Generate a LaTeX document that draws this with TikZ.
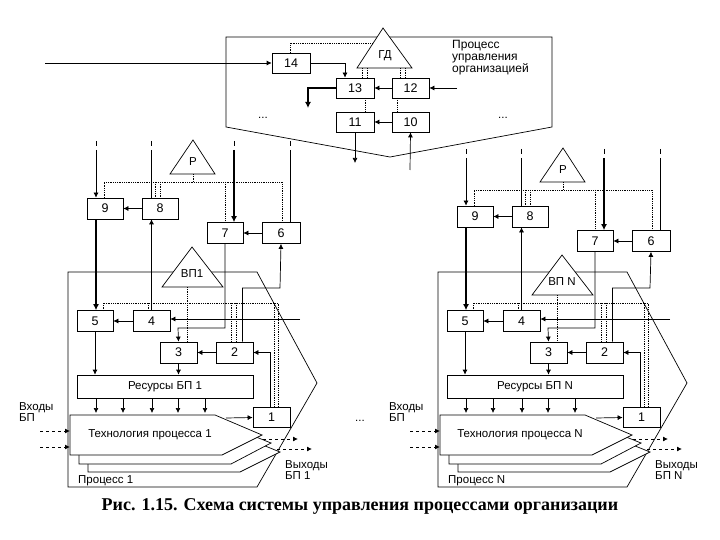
\documentclass[tikz,border=0pt]{standalone}
\usepackage{fontspec}
\setmainfont{Liberation Sans}
\newfontfamily\capfont{Liberation Serif}
\begin{document}
\begin{tikzpicture}[x=1pt,y=-1pt,
  box/.style={draw,line width=0.7pt,fill=white,minimum width=36pt,minimum height=21pt,inner sep=0pt,font=\fontsize{12.5}{12}\selectfont},
  ln/.style={line width=0.7pt},
  thk/.style={line width=1.4pt},
  arr/.style={ln,-{Latex[length=5pt,width=5pt]}},
  tarr/.style={thk,-{Latex[length=6pt,width=6pt]}},
  dot/.style={densely dotted,line width=0.8pt},
  dsh/.style={dashed,line width=0.9pt,-{Latex[length=5pt,width=5pt]}},
  lbl/.style={font=\fontsize{11.5}{12}\selectfont,align=left,inner sep=0pt},
  tri/.style={draw,line width=0.7pt,fill=white}]
\usetikzlibrary{arrows.meta}
\useasboundingbox (0,0) rectangle (720,540);
\fill[white] (0,0) rectangle (720,540);

% ---------- top management process ----------
\draw[ln] (226,37) -- (552,37) -- (552,127) -- (390,157) -- (226,127) -- cycle;
\draw[tri] (383,28) -- (412,68) -- (357,68) -- cycle;
\node[lbl] (gd) at (385,56) {ГД};
\node[box,minimum width=38pt,minimum height=20pt] (t14) at (291,63) {14};
\node[box,minimum width=38pt,minimum height=20pt] (t13) at (355,88) {13};
\node[box,minimum width=37pt,minimum height=20pt] (t12) at (410.5,88) {12};
\node[box,minimum width=38pt,minimum height=20pt] (t11) at (355,122) {11};
\node[box,minimum width=37pt,minimum height=20pt] (t10) at (410.5,122) {10};
\coordinate (tin) at (45,63);
\draw[arr] (tin) -- (t14.west);
\draw[arr] (t14.east) -| ([xshift=-10pt]t13.north);
\draw[dot] (290,53) -- (290,43) -- (372,43);
\draw[dot] (362,68) -- (362,78) (367,68) -- (367,78) (400,68) -- (400,78) (405,68) -- (405,78);
\draw[arr] (t12.west) -- (t13.east);
\coordinate (t12in) at (457,88);
\draw[arr] (t12in) -- (t12.east);
\coordinate (t13out) at (308,108);
\draw[tarr] (t13.west) -| (t13out);
\draw[dot] (365,98) -- (365,112) (397,98) -- (397,112);
\draw[arr] (t10.west) -- (t11.east);
\coordinate (t11out) at (355,163);
\draw[arr] (t11.south) -- (t11out);
\coordinate (t10in) at (410,170);
\draw[arr] (t10in) -- (t10.south);
\node[lbl] at (263,118) {...};
\node[lbl] at (503,118) {...};
\node[lbl,anchor=north west,font=\fontsize{12}{12}\selectfont] at (452,40) {Процесс\\[0pt]управления\\[0pt]организацией};

% ---------- process block macro ----------
\newcommand\procblk[5]{%
\begin{scope}[xshift=#1pt]
 \draw[ln] (68,272) -- (257,272) -- (317,383) -- (257,487) -- (68,487) -- cycle;
 \coordinate (#4xa) at (96,0);
 \begin{scope}[yshift=-#2pt]
  \node[box] (#49) at (105,208.5) {9};
  \node[box] (#48) at (160,208.5) {8};
  \node[box] (#47) at (225,233) {7};
  \node[box,minimum width=38pt] (#46) at (281,233) {6};
  \draw[tri] (193,140) -- (215,174) -- (170,174) -- cycle;
  \node[lbl] at (193,162) {P};
  \draw[dot] (193,174) -- (193,182);
  \draw[dot] (104,198) -- (104,182) -- (282,182) -- (282,222.5);
  \draw[dot] (155,182) -- (155,198) (160,182) -- (160,198) (225,182) -- (225,222.5);
  \foreach \xx in {96,151,234,290} \draw[ln] (\xx,141) -- (\xx,146);
  \coordinate (#4i9) at (96,150);
  \coordinate (#4i8) at (151,150);
  \coordinate (#4i7) at (234,150);
  \coordinate (#4i6) at (290,150);
  \draw[arr] (#4i9) -- (#4i9 |- #49.north);
  \draw[ln] (#4i8) -- (#4i8 |- #48.north);
  \draw[tarr] (#4i7) -- (#4i7 |- #47.north);
  \draw[ln] (#4i6) -- (#4i6 |- #46.north);
  \draw[arr] (#48.west) -- (#49.east);
  \draw[arr] (#46.west) -- (#47.east);
  \draw[tri] (192,247) -- (223,287) -- (162,287) -- cycle;
  \node[lbl] at (192,274) {#5};
  \coordinate (#4vb) at (187,287);
 \end{scope}
 \node[box] (#45) at (95,321) {5};
 \node[box,minimum width=37pt] (#44) at (151.5,321) {4};
 \node[box,minimum width=37pt] (#43) at (178.5,352.5) {3};
 \node[box,minimum width=37pt] (#42) at (234.5,352.5) {2};
 \node[box,minimum width=176pt,minimum height=23pt,font=\fontsize{11.5}{12}\selectfont] (#4r) at (165,386.5) {Ресурсы БП #3};
 \node[box,minimum width=37pt,minimum height=20pt] (#41) at (271.5,417.5) {1};
 \draw[dot] (103,311) -- (103,303) -- (278,303) -- (278,407);
 \draw[dot] (274,303) -- (274,407);
 \draw[dot] (148,303) -- (148,311) (231,303) -- (231,342) (236,303) -- (236,342);
 \draw[dot] (#4vb) -- (#4vb |- #43.north);
 \draw[tarr] (#49.south -| #4xa) -- (#45.north -| #4xa);
 \draw[arr] (#44.north) -- (#44.north |- #48.south);
 \draw[arr] (#44.west) -- (#45.east);
 \coordinate (#4i4) at (300,319);
 \draw[arr] (#4i4) -- (#4i4 -| #44.east);
 \draw[arr] (#47.south) |- (178,328) -- (#43.north);
 \draw[arr] ([xshift=8pt]#42.north) |- (280,288) -- (#46.south);
 \draw[arr] ([xshift=-1pt]#41.north) |- (#42.east);
 \draw[arr] (#42.west) -- (#43.east);
 \draw[arr] (#45.south) -- (#45.south |- #4r.north);
 \draw[arr] (#43.south) -- (#43.south |- #4r.north);
 \foreach \xx in {96,123,152,178,205} \draw[arr] (\xx,398) -- (\xx,413);
 \draw[ln,fill=white] (88,433) -- (233,433) -- (280,452) -- (240,472) -- (88,472) -- cycle;
 \draw[ln,fill=white] (79,424) -- (224,424) -- (271,443) -- (231,464) -- (79,464) -- cycle;
 \draw[ln,fill=white] (70,415) -- (215,415) -- (262,435) -- (222,455) -- (70,455) -- cycle;
 \node[font=\fontsize{11.5}{12}\selectfont] at (150,435) {Технология процесса #3};
 \draw[arr] (226,418) -- (#41.west);
 \coordinate (#4o1) at (298,439);
 \coordinate (#4o2) at (312,449);
 \draw[dsh] (263,439) -- (#4o1);
 \draw[dsh] (277,449) -- (#4o2);
 \coordinate (#4in1) at (40,431);
 \coordinate (#4in2) at (40,447);
 \draw[dsh] (#4in1) -- (70,431);
 \draw[dsh] (#4in2) -- (70,447);
 \node[lbl,anchor=north west] at (19,402) {Входы\\[-1pt]БП};
 \node[lbl,anchor=north west] at (285,460) {Выходы\\[-1pt]БП #3};
 \node[lbl,anchor=west] at (78,481) {Процесс #3};
\end{scope}}

\procblk{0}{0}{1}{L}{ВП1}
\procblk{370}{8}{N}{R}{ВП N}

\node[lbl] at (360,421) {...};
\node[font=\capfont\bfseries\fontsize{18}{18}\selectfont] at (360,506) {Рис. 1.15. Схема системы управления процессами организации};
\end{tikzpicture}
\end{document}
